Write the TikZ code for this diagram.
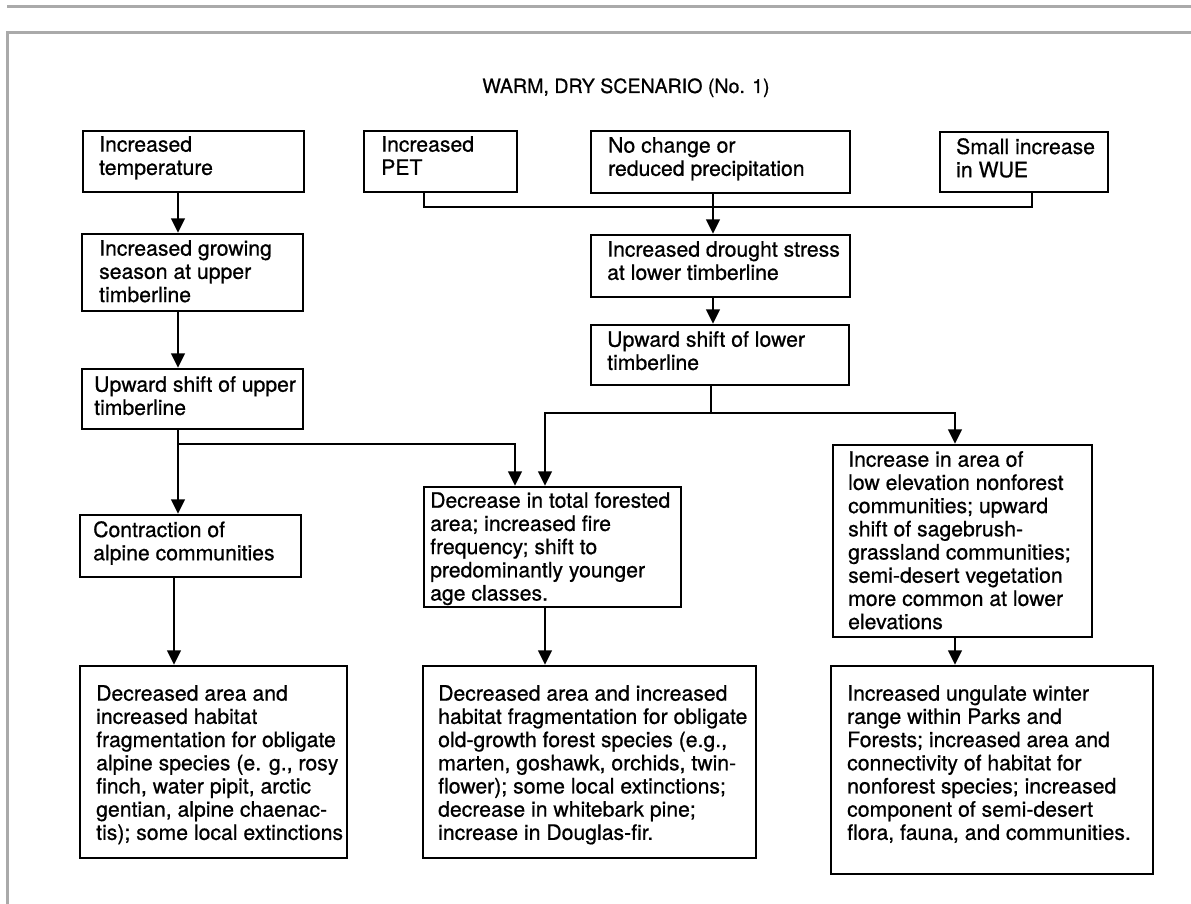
\documentclass[tikz,border=0pt]{standalone}
\usepackage{fontspec}
\setmainfont{TeX Gyre Heros}
\newfontfamily\scanfont{TeX Gyre Heros}[FakeBold=0.7]
\usetikzlibrary{fit,arrows.meta}
\definecolor{framegray}{RGB}{170,170,170}
\tikzset{
  boxnode/.style={draw=black, line width=1.2pt, inner sep=0pt, rectangle},
  txt/.style={inner sep=0pt, anchor=north west, align=left, font=\scanfont\fontsize{10.6pt}{11.6pt}\selectfont},
  ttlstyle/.style={inner sep=0pt, anchor=base, font=\scanfont\fontsize{9.8pt}{12pt}\selectfont},
  conn/.style={line width=0.95pt},
  arr/.style={line width=0.95pt, -{Triangle[length=7.2pt,width=6.8pt]}},
  framestyle/.style={draw=framegray, line width=1.5pt}
}
\begin{document}
\begin{tikzpicture}[x=0.5pt,y=-0.5pt]
\fill[white] (0,0) rectangle (1191,904);
\useasboundingbox (0,0) rectangle (1191,904);
% frame lines
\draw[framestyle] (7,6.5) -- (1191,6.5);
\draw[framestyle] (7,904) -- (7,32.5) -- (1191,32.5);
% title
\node[ttlstyle] (ttl) at (626,93) {WARM, DRY SCENARIO (No. 1)};
% boxes
\node[boxnode, fit={(83,131)(304,192)}] (temp) {};
\node[boxnode, fit={(364,131)(517,192)}] (pet) {};
\node[boxnode, fit={(591,131)(850,193)}] (nochg) {};
\node[boxnode, fit={(940,132)(1108,192)}] (wue) {};
\node[boxnode, fit={(82,234)(303,311)}] (grow) {};
\node[boxnode, fit={(591,235)(850,297)}] (drought) {};
\node[boxnode, fit={(591,325)(849,385)}] (uplow) {};
\node[boxnode, fit={(82,369)(303,429)}] (upup) {};
\node[boxnode, fit={(80,515)(301,577)}] (contr) {};
\node[boxnode, fit={(424,487)(681,607)}] (forest) {};
\node[boxnode, fit={(833,445)(1092,637)}] (nonfor) {};
\node[boxnode, fit={(80,666)(347,858)}] (bl) {};
\node[boxnode, fit={(423,666)(756,858)}] (bm) {};
\node[boxnode, fit={(831,666)(1153,874)}] (br) {};
% texts
\node[txt] (tempT) at ([shift={(17,6)}]temp.north west) {Increased\\temperature};
\node[txt] (petT) at ([shift={(18,6)}]pet.north west) {Increased\\PET};
\node[txt] (nochgT) at ([shift={(18,7)}]nochg.north west) {No change or\\reduced precipitation};
\node[txt] (wueT) at ([shift={(17,7)}]wue.north west) {Small increase\\in WUE};
\node[txt] (growT) at ([shift={(18,7)}]grow.north west) {Increased growing\\season at upper\\timberline};
\node[txt] (droughtT) at ([shift={(17,7)}]drought.north west) {Increased drought stress\\at lower timberline};
\node[txt] (uplowT) at ([shift={(17,7)}]uplow.north west) {Upward shift of lower\\timberline};
\node[txt] (upupT) at ([shift={(13,8)}]upup.north west) {Upward shift of upper\\timberline};
\node[txt] (contrT) at ([shift={(14,7)}]contr.north west) {Contraction of\\alpine communities};
\node[txt] (forestT) at ([shift={(7,6)}]forest.north west) {Decrease in total forested\\area; increased fire\\frequency; shift to\\predominantly younger\\age classes.};
\node[txt] (nonforT) at ([shift={(16,7)}]nonfor.north west) {Increase in area of\\low elevation nonforest\\communities; upward\\shift of sagebrush-\\grassland communities;\\semi-desert vegetation\\more common at lower\\elevations};
\node[txt] (blT) at ([shift={(17,20)}]bl.north west) {Decreased area and\\increased habitat\\fragmentation for obligate\\alpine species (e. g., rosy\\finch, water pipit, arctic\\gentian, alpine chaenac-\\tis); some local extinctions};
\node[txt] (bmT) at ([shift={(16,20)}]bm.north west) {Decreased area and increased\\habitat fragmentation for obligate\\old-growth forest species (e.g.,\\marten, goshawk, orchids, twin-\\flower); some local extinctions;\\decrease in whitebark pine;\\increase in Douglas-fir.};
\node[txt] (brT) at ([shift={(17,20)}]br.north west) {Increased ungulate winter\\range within Parks and\\Forests; increased area and\\connectivity of habitat for\\nonforest species; increased\\component of semi-desert\\flora, fauna, and communities.};
% column / row coordinates for connectors
\coordinate (cA) at (178,0);
\coordinate (cA2) at (174,0);
\coordinate (cP) at (424,0);
\coordinate (cW) at (1032,0);
\coordinate (cN) at (713,0);
\coordinate (cL) at (711,0);
\coordinate (cF) at (545,0);
\coordinate (cF2) at (515,0);
\coordinate (cR) at (955,0);
\coordinate (jT) at (0,207);
\coordinate (jL) at (0,413);
\coordinate (jU) at (0,444);
% connectors
\draw[conn] (pet.south -| cP) |- (cW |- jT) -- (wue.south -| cW);
\draw[arr] (nochg.south -| cN) -- (drought.north -| cN);
\draw[arr] (drought.south -| cN) -- (uplow.north -| cN);
\draw[conn] (uplow.south -| cL) -- (cL |- jL);
\draw[arr] (cL |- jL) -| (forest.north -| cF);
\draw[arr] (cL |- jL) -| (nonfor.north -| cR);
\draw[arr] (temp.south -| cA) -- (grow.north -| cA);
\draw[arr] (grow.south -| cA) -- (upup.north -| cA);
\draw[arr] (upup.south -| cA) -- (contr.north -| cA);
\draw[arr] (cA |- jU) -| (forest.north -| cF2);
\draw[arr] (contr.south -| cA2) -- (bl.north -| cA2);
\draw[arr] (forest.south -| cF) -- (bm.north -| cF);
\draw[arr] (nonfor.south -| cR) -- (br.north -| cR);
\end{tikzpicture}
\end{document}
